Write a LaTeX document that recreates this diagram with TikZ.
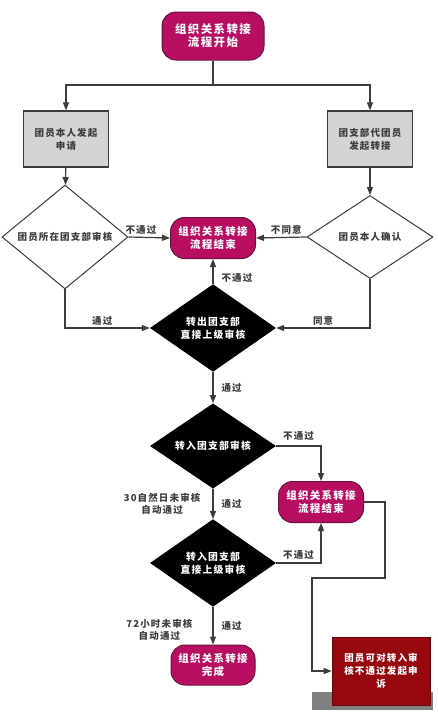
\documentclass[tikz,border=0pt]{standalone}
\usepackage{fontspec}
\newfontfamily\cjk[LetterSpace=12]{Noto Sans CJK SC}
\usetikzlibrary{shapes.geometric,arrows.meta}
\definecolor{flowpink}{RGB}{184,14,98}
\definecolor{pinkedge}{RGB}{105,18,58}
\definecolor{boxgray}{RGB}{212,212,212}
\definecolor{appealred}{RGB}{150,8,14}
\definecolor{shadowgray}{RGB}{128,128,128}
\definecolor{inkgray}{RGB}{60,60,60}
\tikzset{
  terminal/.style = {rectangle, rounded corners = 14pt, draw = pinkedge, fill = flowpink,
    line width = 1pt, text = white, align = center, minimum width = 85, minimum height = 41,
    font = \cjk\bfseries\fontsize{10.5}{13.5}\selectfont},
  stepbox/.style = {rectangle, draw = inkgray, fill = boxgray, line width = 1.2pt,
    text = inkgray, align = center, minimum width = 85, minimum height = 56,
    font = \cjk\bfseries\fontsize{9.5}{13}\selectfont},
  check/.style = {diamond, draw = inkgray, fill = white, line width = 1pt, inner sep = 0,
    minimum width = 126, minimum height = 83, text = inkgray, align = center,
    font = \cjk\bfseries\fontsize{9.5}{13}\selectfont},
  gate/.style = {diamond, fill = black, inner sep = 0, minimum width = 126, minimum height = 82,
    text = white, align = center, font = \cjk\bfseries\fontsize{9.8}{13.5}\selectfont},
  appeal/.style = {rectangle, draw = appealred!70!black, fill = appealred, line width = .6pt,
    text = white, align = center, minimum width = 98, minimum height = 68,
    font = \cjk\bfseries\fontsize{9.5}{13}\selectfont},
  flow/.style = {draw = inkgray, line width = 1.2pt, -{Triangle[length = 8pt, width = 6pt]}},
  tag/.style = {text = inkgray, align = center, inner sep = 2pt,
    font = \cjk\bfseries\fontsize{9.5}{12.5}\selectfont}
}
\begin{document}
\begin{tikzpicture}[x = 1pt, y = -1pt]
\useasboundingbox (0, 0) rectangle (438, 721);

\node [terminal, minimum width = 102, minimum height = 48,
  font = \cjk\bfseries\fontsize{11.5}{13}\selectfont] (start) at (213, 36) {组织关系转接\\流程开始};
\node [stepbox] (apply) at (66, 139) {团员本人发起\\申请};
\node [stepbox] (branch) at (370, 139) {团支部代团员\\发起转接};
\node [check] (league) at (65, 237) {团员所在团支部审核};
\node [check] (confirm) at (370, 237) {团员本人确认};
\node [terminal] (stop) at (213, 238) {组织关系转接\\流程结束};
\node [gate] (outer) at (213, 328) {转出团支部\\直接上级审核};
\node [gate] (inner) at (213, 446) {转入团支部审核};
\node [terminal] (stopin) at (321, 502) {组织关系转接\\流程结束};
\node [gate] (upper) at (213, 563) {转入团支部\\直接上级审核};
\node [terminal, minimum width = 84, minimum height = 40] (done) at (213, 665) {组织关系转接\\完成};

% appeal box with its grey shadow
\fill [shadowgray] (312, 692) rectangle (433, 710);
\node [appeal] (plea) at (381, 671) {团员可对转入审\\核不通过发起申\\诉};

\coordinate (split) at (213, 85);
\coordinate (turnA) at (385, 578);
\coordinate (turnB) at (312, 578);

\draw [draw = inkgray, line width = 1.2pt] (start.south) -- (split);
\draw [flow] (split) -| (apply.north);
\draw [flow] (split) -| (branch.north);
\draw [flow] (apply) -- (league);
\draw [flow] (branch) -- (confirm);

\draw [flow] (league.east) -- node [tag, above, pos = .3] {不通过} (stop.west);
\draw [flow] (confirm.west) -- node [tag, above, pos = .4] {不同意} (stop.east);
\draw [flow] (outer.north) -- node [tag, right, pos = .25, xshift = 6pt] {不通过} (stop.south);
\draw [flow] (league.south) |- node [tag, above, pos = .72] {通过} (outer.west);
\draw [flow] (confirm.south) |- node [tag, above, pos = .75] {同意} (outer.east);
\draw [flow] (outer.south) -- node [tag, right, xshift = 6pt] {通过} (inner.north);

\draw [flow] (inner.east) -| node [tag, above, pos = .25, yshift = 3pt] {不通过} (stopin.north);
\draw [flow] (inner.south) -- node [tag, right, xshift = 6pt] {通过}
  node [tag, left, xshift = -10pt] {30自然日未审核\\自动通过} (upper.north);
\draw [flow] (upper.east) -| node [tag, above, pos = .25, yshift = 1pt] {不通过} (stopin.south);
\draw [flow] (upper.south) -- node [tag, right, xshift = 6pt] {通过}
  node [tag, left, xshift = -18pt, yshift = -4pt] {72小时未审核\\自动通过} (done.north);

\draw [flow] (stopin.east) -| (turnA) -- (turnB) |- (plea.west);
\end{tikzpicture}
\end{document}
